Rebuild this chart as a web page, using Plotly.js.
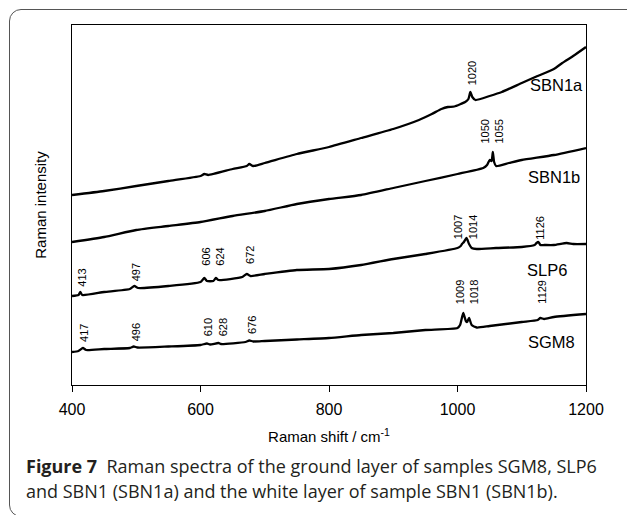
<!DOCTYPE html>
<html>
<head>
<meta charset="utf-8">
<script src="https://cdn.plot.ly/plotly-3.0.1.min.js"></script>
<style>
  html, body { margin: 0; padding: 0; width: 627px; height: 515px; overflow: hidden; background: #fff; }
  #frame { position: absolute; left: 9px; top: 9px; width: 700px; height: 508px; border: 1.3px solid #555; border-radius: 12px; box-sizing: border-box; pointer-events: none; }
  #chart { position: absolute; left: 0; top: 0; width: 627px; height: 515px; }
</style>
</head>
<body>
<div id="chart"></div>
<div id="frame"></div>
<script>
// Raman shift (cm-1) and relative intensity (arbitrary units, offset stacked)
const sbn1aX = [400,450,500,550,600,606,612,650,672,676,682,700,750,800,850,900,940,960,975,985,995,1005,1012,1017,1020,1023,1028,1050,1069,1100,1121,1150,1163,1180,1200];
const sbn1aY = [190,194,199,204,209,211,210,216,219,221,219,222,231,238,247,256,265,271,276,278,278.5,281,283,286,293,288,285,289,293,302,308,316,322,329,338];

const sbn1bX = [400,450,500,550,600,650,700,750,800,850,900,950,1000,1040,1046,1050,1053,1055,1057,1060,1080,1100,1150,1200];
const sbn1bY = [143,148,155,159,163,169,174,181,186,190,197,204,211,217,220,225,224,233,223,219,222,225,230,237];

const slp6X = [400,410,413,416,450,490,497,503,550,600,606,610,620,624,628,665,672,678,700,750,800,850,900,950,1000,1005,1007,1010,1014,1018,1022,1030,1060,1100,1120,1123,1126,1129,1135,1150,1170,1180,1200];
const slp6Y = [89,90,93,90,93,96,99,97,99,103,107,104,104,107,105,108,111,109,111,115,116,120,126,131,137,139,141,143,147,141,137,136,137,138,140,142,143,140,140,140,142,141,141];

const sgm8X = [400,410,417,422,450,490,496,502,550,600,610,615,628,632,670,676,682,700,750,800,850,900,950,1000,1004,1009,1013,1015,1018,1022,1030,1050,1100,1125,1129,1135,1150,1200];
const sgm8Y = [33,34,37,35,36,37,38.5,37.5,38.5,40,41.5,40.5,42,41,43,44.5,43.5,44,45.5,47,50,52,55,57,60,72,64,63,67,60,57.5,59,63,65,67,66,68,71];

const seriesNames = ["SBN1a", "SBN1b", "SLP6", "SGM8"];
const peakLabels = ["1020", "1050<br>1055", "1007<br>1014", "1126", "1009<br>1018", "1129",
                    "413", "497", "606<br>624", "672", "417", "496", "610<br>628", "676"];
const tickVals = [400, 600, 800, 1000, 1200];

const series = [[sbn1aX, sbn1aY], [sbn1bX, sbn1bY], [slp6X, slp6Y], [sgm8X, sgm8Y]];
const traces = series.map((s, i) => ({
  x: s[0], y: s[1], type: 'scatter', mode: 'lines', name: seriesNames[i],
  line: { color: '#000', width: 2.3, shape: 'spline', smoothing: 0.5 }, hoverinfo: 'skip'
}));

// label placements (data coordinates)
const peakPos = [[1023,312],[1053,253],[1012,158],[1128,157],[1015,93],[1131,93],
                 [415,107],[500,113],[619,128],[677,130],[418.5,52],[500,53],[623,58],[680,60]];
const nameAnn = [
  {x: 1198, y: 300, xanchor: 'right'},
  {x: 1106, y: 208, xanchor: 'left'},
  {x: 1105, y: 115, xanchor: 'left'},
  {x: 1106, y: 43, xanchor: 'left'}
];
const annotations = [];
peakLabels.forEach((t, i) => annotations.push({
  x: peakPos[i][0], y: peakPos[i][1], text: t, textangle: -90, showarrow: false,
  xanchor: 'center', yanchor: 'middle',
  font: { family: 'Arial, "Liberation Sans", sans-serif', size: 11, color: '#000' }
}));
seriesNames.forEach((t, i) => annotations.push({
  x: nameAnn[i].x, y: nameAnn[i].y, xanchor: nameAnn[i].xanchor, yanchor: 'middle',
  text: t, showarrow: false,
  font: { family: 'Arial, "Liberation Sans", sans-serif', size: 16.5, color: '#000' }
}));
// caption
annotations.push({
  xref: 'paper', yref: 'paper', x: -0.093, y: -0.225, xanchor: 'left', yanchor: 'middle',
  text: '<b>Figure 7</b>&nbsp; Raman spectra of the ground layer of samples SGM8, SLP6', showarrow: false,
  font: { family: '"Open Sans", sans-serif', size: 18, color: '#231f20' }
});
annotations.push({
  xref: 'paper', yref: 'paper', x: -0.093, y: -0.294, xanchor: 'left', yanchor: 'middle',
  text: 'and SBN1 (SBN1a) and the white layer of sample SBN1 (SBN1b).', showarrow: false,
  font: { family: '"Open Sans", sans-serif', size: 18, color: '#231f20' }
});

const layout = {
  width: 627, height: 515,
  margin: { l: 72, r: 41, t: 25, b: 130 },
  paper_bgcolor: '#fff', plot_bgcolor: '#fff',
  showlegend: false,
  font: { family: 'Arial, "Liberation Sans", sans-serif', color: '#000' },
  xaxis: {
    range: [400, 1200], tickvals: tickVals, ticktext: tickVals.map(String),
    ticks: 'outside', ticklen: 6, tickwidth: 1, tickcolor: '#000',
    ticklabelstandoff: 4,
    showline: true, linecolor: '#000', linewidth: 1, mirror: true,
    showgrid: false, zeroline: false,
    tickfont: { size: 16, family: 'Arial, "Liberation Sans", sans-serif', color: '#000' },
    title: { text: 'Raman shift / cm<sup>-1</sup>', font: { size: 15, family: 'Arial, "Liberation Sans", sans-serif', color: '#000' }, standoff: 14 }
  },
  yaxis: {
    range: [0, 360], showticklabels: false, ticks: '',
    showline: true, linecolor: '#000', linewidth: 1, mirror: true,
    showgrid: false, zeroline: false,
    title: { text: 'Raman intensity', font: { size: 15, family: 'Arial, "Liberation Sans", sans-serif', color: '#000' }, standoff: 20 }
  },
  annotations: annotations
};

Plotly.newPlot('chart', traces, layout, { staticPlot: true, displayModeBar: false });
</script>
</body>
</html>
